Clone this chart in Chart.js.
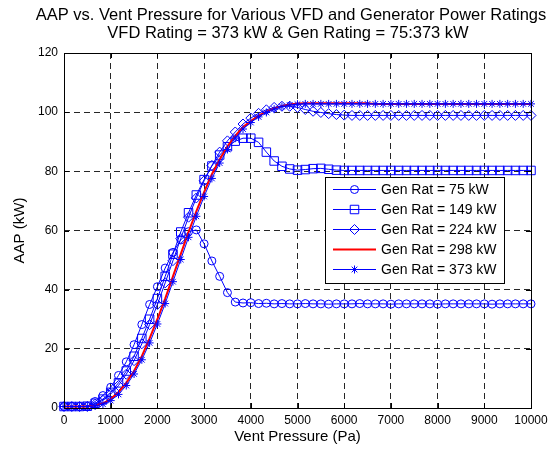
<!DOCTYPE html>
<html>
<head>
<meta charset="utf-8">
<script src="https://cdn.jsdelivr.net/npm/chart.js@4.4.0/dist/chart.umd.min.js"></script>
<style>
  html, body { margin: 0; padding: 0; background: #fff; }
  #wrap { width: 560px; height: 452px; }
</style>
</head>
<body>
<div id="wrap"><canvas id="aapChart" width="560" height="452"></canvas></div>
<script>
const pressure = [0, 166.7, 333.3, 500, 666.7, 833.3, 1000, 1166.7, 1333.3, 1500, 1666.7, 1833.3,
  2000, 2166.7, 2333.3, 2500, 2666.7, 2833.3, 3000, 3166.7, 3333.3, 3500, 3666.7, 3833.3,
  4000, 4166.7, 4333.3, 4500, 4666.7, 4833.3, 5000, 5166.7, 5333.3, 5500, 5666.7, 5833.3,
  6000, 6166.7, 6333.3, 6500, 6666.7, 6833.3, 7000, 7166.7, 7333.3, 7500, 7666.7, 7833.3,
  8000, 8166.7, 8333.3, 8500, 8666.7, 8833.3, 9000, 9166.7, 9333.3, 9500, 9666.7, 9833.3, 10000];

const gen75 = [0.5, 0.5, 0.5, 0.6, 2.2, 4.2, 7, 11, 15.6, 21.4, 28.2, 35, 41, 47.3, 52.6, 56.8,
  59.6, 60.2, 55.5, 49.7, 44.5, 39, 35.8, 35.5, 35.6, 35.3, 35.4, 35.2, 35.3, 35.2,
  35.2, 35.3, 35.2, 35.2, 35.1, 35.2, 35.2, 35.2, 35.3, 35.2, 35.2, 35.2, 35.1, 35.2, 35.2, 35.2,
  35.2, 35.2, 35.1, 35.2, 35.2, 35.2, 35.2, 35.2, 35.2, 35.1, 35.2, 35.2, 35.2, 35.2, 35.2];

const gen149 = [0.5, 0.5, 0.5, 0.6, 1.6, 3, 5.3, 8.5, 12.5, 17.5, 23.5, 30, 37, 44.5, 52, 59.5,
  66, 72, 77.2, 81.8, 85.5, 88.3, 90.2, 91.2, 91.2, 89.8, 86.5, 83.5, 81.7, 80.8,
  80.4, 80.6, 80.9, 81, 80.7, 80.4, 80.3, 80.3, 80.3, 80.3, 80.3, 80.3, 80.3, 80.3, 80.3, 80.3,
  80.3, 80.3, 80.3, 80.3, 80.3, 80.3, 80.3, 80.3, 80.3, 80.3, 80.3, 80.3, 80.3, 80.3, 80.3];

const gen224 = [0.5, 0.5, 0.5, 0.5, 1.3, 2.6, 4.7, 7.6, 11.4, 16, 21.7, 28.2, 35, 42.3, 49.8, 57.3,
  64.5, 71, 76.8, 82, 86.5, 90.3, 93.3, 96, 98, 99.6, 100.8, 101.6, 102, 102,
  101.6, 100.9, 100.3, 99.9, 99.5, 99.2, 99, 98.9, 98.9, 98.9, 98.9, 98.9, 98.9, 98.9, 98.9, 98.9,
  98.9, 98.9, 98.9, 98.9, 98.9, 98.9, 98.9, 98.9, 98.9, 98.9, 98.9, 98.9, 98.9, 98.9, 98.9];

const gen298 = [0.5, 0.5, 0.5, 0.5, 0.8, 1.6, 3, 5.3, 8.5, 12.5, 17.5, 23.5, 30, 37, 44.5, 52,
  59.5, 66.5, 73, 79, 84, 88.5, 92, 95, 97, 98.8, 100.2, 101.3, 102.1, 102.6,
  102.9, 103, 103, 103, 103, 103, 103, 103, 103, 103, 102.8, 102.8, 102.8, 102.8, 102.8, 102.8,
  102.8, 102.8, 102.8, 102.8, 102.8, 102.8, 102.8, 102.8, 102.8, 102.8, 102.8, 102.8, 102.8, 102.8, 102.8];

const gen373 = [0.5, 0.5, 0.5, 0.5, 0.7, 1.3, 2.5, 4.6, 7.6, 11.5, 16.3, 22, 28.4, 35.3, 42.7, 50.2,
  57.7, 64.8, 71.5, 77.6, 82.8, 87.4, 91.2, 94.3, 96.5, 98.4, 99.9, 101, 101.9, 102.4,
  102.7, 102.8, 102.8, 102.8, 102.8, 102.8, 102.8, 102.8, 102.8, 102.8, 102.8, 102.8, 102.8, 102.8, 102.8, 102.8,
  102.8, 102.8, 102.8, 102.8, 102.8, 102.8, 102.8, 102.8, 102.8, 102.8, 102.8, 102.8, 102.8, 102.8, 102.8];

const seriesLabels = ["Gen Rat = 75 kW", "Gen Rat = 149 kW", "Gen Rat = 224 kW", "Gen Rat = 298 kW", "Gen Rat = 373 kW"];
const xTicks = [0, 1000, 2000, 3000, 4000, 5000, 6000, 7000, 8000, 9000, 10000];
const yTicks = [0, 20, 40, 60, 80, 100, 120];
const titleLines = ["AAP vs. Vent Pressure for Various VFD and Generator Power Ratings",
  "VFD Rating = 373 kW & Gen Rating = 75:373 kW"];

const FONT = '"Liberation Sans", Arial, Helvetica, sans-serif';
const BLUE = "#0000ff";

function makeSet(label, values, style) {
  return Object.assign({
    label: label,
    data: pressure.map((p, i) => ({ x: p, y: values[i] })),
    borderColor: BLUE,
    borderWidth: 1,
    pointBorderColor: BLUE,
    pointBackgroundColor: "rgba(0,0,0,0)",
    pointBorderWidth: 1,
    tension: 0,
    clip: false
  }, style);
}

const datasets = [
  makeSet(seriesLabels[0], gen75, { pointStyle: "circle", pointRadius: 4, order: 5 }),
  makeSet(seriesLabels[1], gen149, { pointStyle: "rect", pointRadius: 6, order: 4 }),
  makeSet(seriesLabels[2], gen224, { pointStyle: "rectRot", pointRadius: 5, order: 3 }),
  makeSet(seriesLabels[3], gen298, { borderColor: "#ff0000", borderWidth: 2, pointRadius: 0, order: 2 }),
  makeSet(seriesLabels[4], gen373, { pointStyle: "star", pointRadius: 4, order: 1 })
];

// box, inward ticks, title and the legend drawn MATLAB style
const matlabFrame = {
  id: "matlabFrame",
  afterDraw(chart) {
    const { ctx, chartArea: a, scales } = chart;
    ctx.save();
    ctx.strokeStyle = "#000";
    ctx.lineWidth = 1;
    ctx.setLineDash([]);
    ctx.strokeRect(Math.round(a.left) + 0.5, Math.round(a.top) + 0.5,
      Math.round(a.right - a.left), Math.round(a.bottom - a.top));

    ctx.beginPath();
    xTicks.forEach(v => {
      const x = Math.round(scales.x.getPixelForValue(v)) + 0.5;
      ctx.moveTo(x, a.bottom); ctx.lineTo(x, a.bottom - 5);
      ctx.moveTo(x, a.top); ctx.lineTo(x, a.top + 5);
    });
    yTicks.forEach(v => {
      const y = Math.round(scales.y.getPixelForValue(v)) + 0.5;
      ctx.moveTo(a.left, y); ctx.lineTo(a.left + 5, y);
      ctx.moveTo(a.right, y); ctx.lineTo(a.right - 5, y);
    });
    ctx.stroke();

    ctx.fillStyle = "#000";
    ctx.font = "16.5px " + FONT;
    ctx.textAlign = "center";
    ctx.textBaseline = "middle";
    ctx.fillText(titleLines[0], 291, 15.5);
    ctx.fillText(titleLines[1], 288, 33);

    // legend
    const lx = 325, ly = 177, lw = 179, lh = 106;
    ctx.fillStyle = "#fff";
    ctx.fillRect(lx, ly, lw, lh);
    ctx.strokeRect(lx + 0.5, ly + 0.5, lw, lh);
    ctx.font = "14px " + FONT;
    ctx.textAlign = "left";
    chart.data.datasets.forEach((ds, i) => {
      const y = ly + 12.5 + i * 20;
      ctx.strokeStyle = ds.borderColor;
      ctx.lineWidth = ds.borderWidth;
      ctx.beginPath();
      ctx.moveTo(333, y); ctx.lineTo(376, y);
      ctx.stroke();
      if (ds.pointRadius > 0) {
        ctx.lineWidth = 1;
        ctx.fillStyle = "rgba(0,0,0,0)";
        Chart.helpers.drawPoint(ctx, { pointStyle: ds.pointStyle, radius: ds.pointRadius, rotation: 0, borderWidth: 1 }, 354.5, y);
      }
      ctx.fillStyle = "#000";
      ctx.fillText(ds.label, 381, y + 1);
    });
    ctx.restore();
  }
};

const gridOpts = { color: "rgba(0,0,0,0.85)", lineWidth: 1, drawTicks: false };

new Chart(document.getElementById("aapChart"), {
  type: "line",
  data: { datasets: datasets },
  options: {
    responsive: false,
    animation: false,
    devicePixelRatio: 1,
    events: [],
    layout: { padding: { top: 53, right: 29, bottom: 0, left: 0 } },
    plugins: { legend: { display: false }, tooltip: { enabled: false }, title: { display: false } },
    scales: {
      x: {
        type: "linear", min: 0, max: 10000,
        afterBuildTicks: s => { s.ticks = xTicks.map(v => ({ value: v })); },
        afterFit: s => { s.height = 44; },
        ticks: { color: "#000", font: { family: FONT, size: 12 }, padding: 5, maxRotation: 0, autoSkip: false, callback: v => String(v) },
        grid: gridOpts,
        border: { display: false, dash: [6, 4] },
        title: { display: true, text: "Vent Pressure (Pa)", color: "#000", font: { family: FONT, size: 15 }, padding: { top: 0, bottom: 6 } }
      },
      y: {
        min: 0, max: 120,
        afterBuildTicks: s => { s.ticks = yTicks.map(v => ({ value: v })); },
        afterFit: s => { s.width = 64; },
        ticks: { color: "#000", font: { family: FONT, size: 12 }, padding: 6, callback: v => String(v) },
        grid: gridOpts,
        border: { display: false, dash: [6, 4] },
        title: { display: true, text: "AAP (kW)", color: "#000", font: { family: FONT, size: 15 }, padding: { top: 11, bottom: 0 } }
      }
    }
  },
  plugins: [matlabFrame]
});
</script>
</body>
</html>
